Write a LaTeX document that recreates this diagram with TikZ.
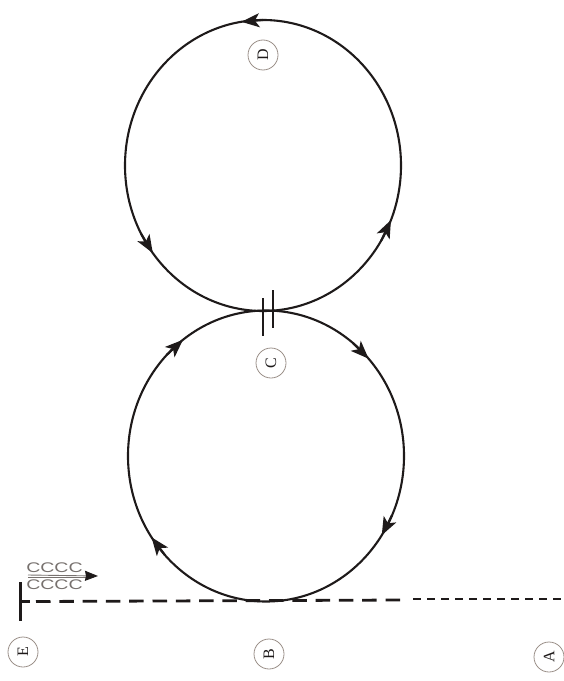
\documentclass[tikz,border=0pt]{standalone}
\usepackage{fontspec}
\setmainfont{Liberation Serif}
\newfontfamily\strandfont{Liberation Sans}
\usetikzlibrary{arrows.meta,calc}
\definecolor{ink}{HTML}{1E1A1A}
\definecolor{ringc}{HTML}{9A8F88}
\definecolor{strandc}{HTML}{77716E}
\tikzset{
  loopline/.style={draw=ink,line width=2.1bp},
  arrowbit/.style={draw=ink,line width=2.1bp,-{Stealth[length=18bp,width=14bp,inset=4.5bp]}},
  barline/.style={draw=ink,line width=2.6bp},
  longdash/.style={draw=ink,line width=2.8bp,dash pattern=on 14.5bp off 8.8bp},
  shortdash/.style={draw=ink,line width=2.8bp,dash pattern=on 7.5bp off 6.5bp},
  tag/.style={circle,draw=ringc,line width=0.8bp,minimum size=30bp,inner sep=0pt,
    text=ink,font=\fontsize{16}{16}\selectfont,rotate=90},
  strands/.style={text=strandc,inner sep=0pt,font=\strandfont\fontsize{14}{14}\selectfont,
    xscale=1.4,transform shape,anchor=west}
}
\begin{document}
\begin{tikzpicture}[x=1bp,y=-1bp]
\useasboundingbox (0,0) rectangle (564,681);
% loops
\coordinate (up) at (263,165.5);
\coordinate (lo) at (266,456);
\path[loopline] (up) ellipse [x radius=138,y radius=145.5];
\path[loopline] (lo) ellipse [x radius=138,y radius=145.5];
% upper loop arrows
\foreach \t in {22,261,143}
  \path[arrowbit] ($(up)+({138*cos(\t+9)},{145.5*sin(\t+9)})$) -- ($(up)+({138*cos(\t)},{145.5*sin(\t)})$);
% lower loop arrows
\foreach \t in {233,318,33,146}
  \path[arrowbit] ($(lo)+({138*cos(\t-9)},{145.5*sin(\t-9)})$) -- ($(lo)+({138*cos(\t)},{145.5*sin(\t)})$);
% contact marks
\coordinate (b1a) at (263,298); \coordinate (b1b) at (263,336);
\coordinate (b2a) at (273,290); \coordinate (b2b) at (273,328);
\path[barline] (b1a) -- (b1b);
\path[barline] (b2a) -- (b2b);
% template line
\coordinate (ta) at (20.5,582); \coordinate (tb) at (20.5,621);
\coordinate (l0) at (20.5,601.5); \coordinate (l0b) at (30,601.5); \coordinate (l1) at (36,601.5);
\coordinate (l2) at (407,600); \coordinate (l3) at (413,599); \coordinate (l4) at (564,599);
\path[barline] (ta) -- (tb);
\path[barline] (l0) -- (l0b);
\path[longdash] (l1) -- (l2);
\path[shortdash] (l3) -- (l4);
% strands
\node[strands] (s1) at (26,568) {CCCC};
\node[strands] (s2) at (26,585) {CCCC};
\coordinate (sa) at (28,575); \coordinate (sb) at (98,576);
\coordinate (sa2) at (28,577); \coordinate (sb2) at (86,577);
\path[draw=strandc,line width=0.9bp] (sa2) -- (sb2);
\path[draw=strandc,line width=0.9bp,-{Stealth[length=13bp,width=10bp,inset=1bp,ink]}] (sa) -- (sb);
% labels
\node[tag] (E) at (23,652) {E};
\node[tag] (B) at (269,654) {B};
\node[tag] (A) at (549,657) {A};
\node[tag] (C) at (271,363) {C};
\node[tag] (D) at (263,55) {D};
\end{tikzpicture}
\end{document}
